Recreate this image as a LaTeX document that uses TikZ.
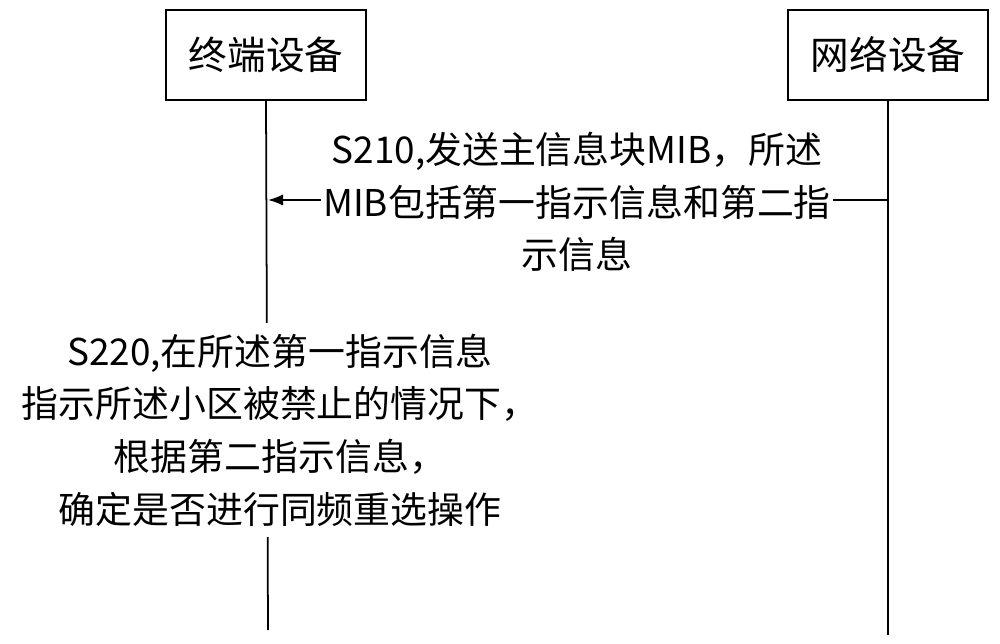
\documentclass[tikz,border=0pt]{standalone}
\usepackage{fontspec}
\setmainfont{Noto Sans CJK SC}
\usetikzlibrary{arrows.meta, positioning}
\tikzset{
  entity/.style={draw, line width=1.2pt, minimum width=4cm, minimum height=1.8cm, font=\fontsize{22}{26}\selectfont},
  msg/.style={fill=white, align=center, inner sep=1pt, font=\fontsize{21}{30}\selectfont},
  life/.style={line width=1pt}
}
\begin{document}
\begin{tikzpicture}[x=0.02cm, y=-0.02cm]
  \useasboundingbox (0,0) rectangle (1000,644);
  % entities
  \node[entity] (ue) at (266,55) {终端设备};
  \node[entity] (nw) at (888,55) {网络设备};
  % lifelines
  \coordinate (ueend) at (268,630);
  \coordinate (nwend) at (888,635);
  \coordinate (nwmsg) at (888,200);
  \coordinate (uemsg) at (268,200);
  \draw[life] (ue.south) -- (ueend);
  \draw[life] (nw.south) -- (nwend);
  % S210
  \draw[life, -{Latex[length=3mm]}] (nwmsg) -- (uemsg);
  \node[msg] (s210) at (577,202) {S210,发送主信息块MIB，所述\\MIB包括第一指示信息和第二指\\示信息};
  % S220
  \node[msg, inner ysep=6pt] (s220) at (280,430) {S220,在所述第一指示信息\\指示所述小区被禁止的情况下，\\根据第二指示信息，\\确定是否进行同频重选操作};
\end{tikzpicture}
\end{document}
